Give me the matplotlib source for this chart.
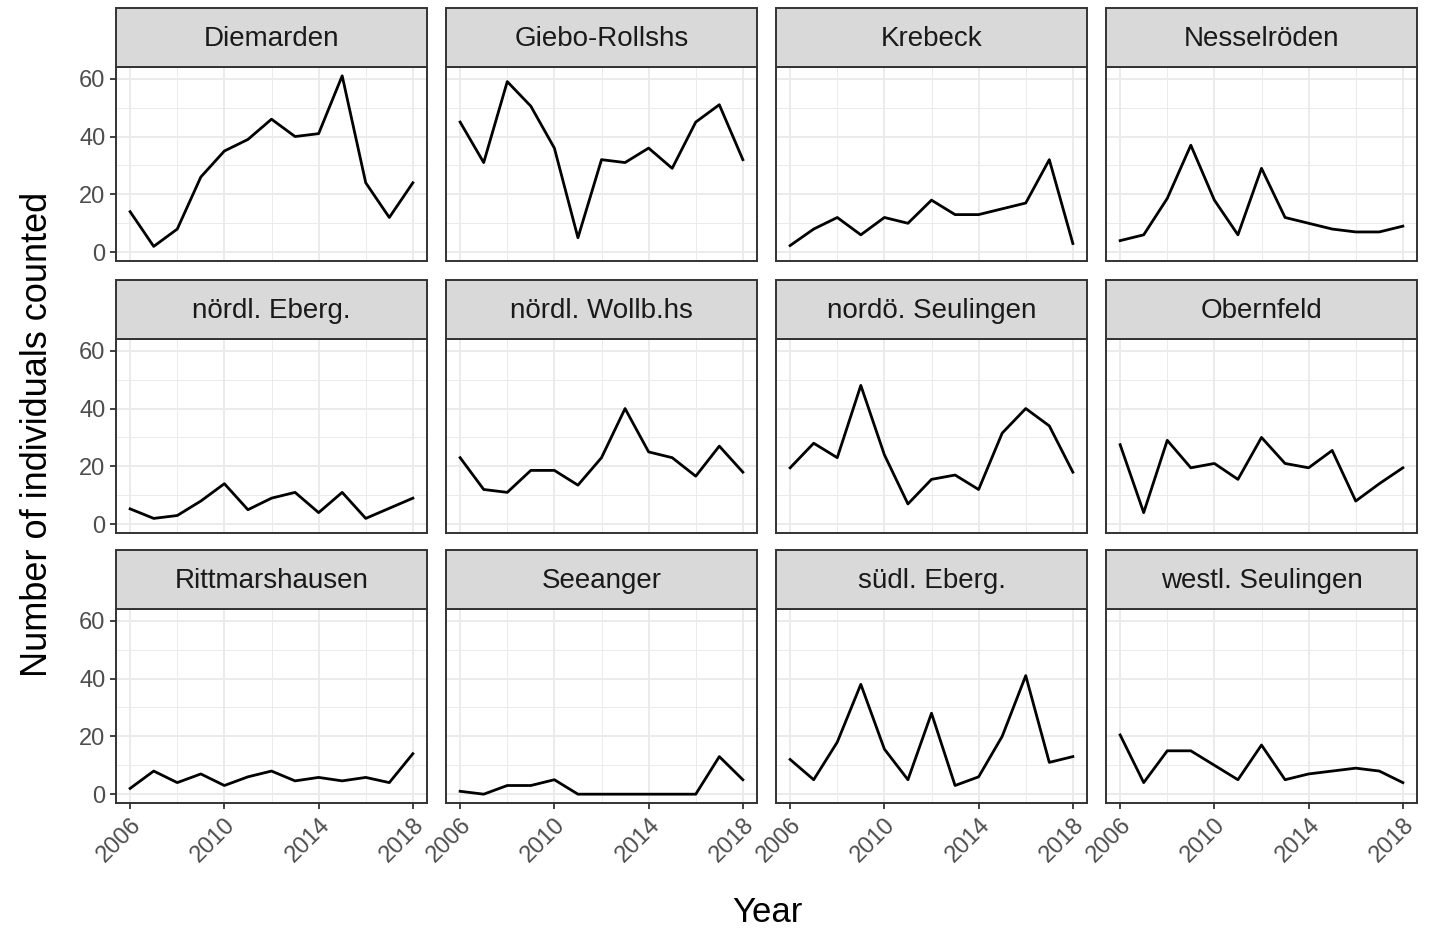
import numpy as np
import matplotlib
matplotlib.use("Agg")
import matplotlib.pyplot as plt
from matplotlib.patches import Rectangle

plt.rcParams['font.family'] = ['Liberation Sans', 'DejaVu Sans']

years = list(range(2006, 2019))

sites = ['Diemarden', 'Giebo-Rollshs', 'Krebeck', 'Nesselröden',
         'nördl. Eberg.', 'nördl. Wollb.hs', 'nordö. Seulingen', 'Obernfeld',
         'Rittmarshausen', 'Seeanger', 'südl. Eberg.', 'westl. Seulingen']

diemarden = [14, 2, 8, 26, 35, 39, 46, 40, 41, 61, 24, 12, 24]
giebo = [45, 31, 59, 50.5, 36, 5, 32, 31, 36, 29, 45, 51, 32]
krebeck = [2.3, 8, 12, 6, 12, 10, 18, 13, 13, 15, 17, 32, 3]
nesselroeden = [4, 6, 18.6, 37, 18, 6, 29, 12, 10, 8, 7, 7, 9]
noerdl_eberg = [5.3, 2, 3, 8, 14, 5, 9, 11, 4, 11, 2, 5.5, 9]
noerdl_wollb = [23, 12, 11, 18.6, 18.6, 13.5, 23, 40, 25, 23, 16.6, 27, 18]
nordoe_seul = [19.5, 28, 23, 48, 24, 7, 15.5, 17, 12, 31.5, 40, 34, 18]
obernfeld = [27.5, 4, 29, 19.5, 21, 15.5, 30, 21, 19.5, 25.5, 8, 14, 19.5]
rittmars = [2, 8, 4, 7, 3, 6, 8, 4.6, 5.8, 4.6, 5.8, 4, 14]
seeanger = [1, 0, 3, 3, 5, 0, 0, 0, 0, 0, 0, 13, 5]
suedl_eberg = [12, 5, 18, 38, 15.6, 5, 28, 3, 6, 20, 41, 11, 13]
westl_seul = [20.5, 4, 15, 15, 10, 5, 17, 5, 7, 8, 9, 8, 4]

counts = [diemarden, giebo, krebeck, nesselroeden,
          noerdl_eberg, noerdl_wollb, nordoe_seul, obernfeld,
          rittmars, seeanger, suedl_eberg, westl_seul]

W, H = 1432, 933
fig = plt.figure(figsize=(W / 100, H / 100), dpi=100)

col_left = [116, 446, 776, 1106]
row_top = [67, 339, 609]
pw, ph = 311, 194
strip_h = 59

for i, (name, vals) in enumerate(zip(sites, counts)):
    r, c = divmod(i, 4)
    x0, y0 = col_left[c], row_top[r]
    ax = fig.add_axes([x0 / W, 1 - (y0 + ph) / H, pw / W, ph / H])
    ax.plot(years, vals, color='black', lw=2.0)
    ax.set_xlim(2005.4, 2018.6)
    ax.set_ylim(-3.05, 64.05)
    ax.set_xticks([2006, 2010, 2014, 2018])
    ax.set_xticks([2008, 2012, 2016], minor=True)
    ax.set_yticks([0, 20, 40, 60])
    ax.set_yticks([10, 30, 50], minor=True)
    ax.grid(which='major', color='#EBEBEB', lw=1.4)
    ax.grid(which='minor', color='#EBEBEB', lw=0.7)
    ax.set_axisbelow(True)
    for s in ax.spines.values():
        s.set_color('#333333')
        s.set_linewidth(1.4)
    ax.tick_params(which='minor', length=0)
    ax.tick_params(which='major', color='#333333', length=4.5, width=1.3,
                   labelsize=17, labelcolor='#4D4D4D', pad=3)
    if c == 0:
        ax.set_yticklabels(['0', '20', '40', '60'])
    else:
        ax.tick_params(axis='y', which='major', length=0, labelleft=False)
    if r == 2:
        ax.set_xticklabels(['2006', '2010', '2014', '2018'], rotation=45,
                           ha='right', va='top', rotation_mode='anchor')
    else:
        ax.tick_params(axis='x', which='major', length=0, labelbottom=False)

    sax = fig.add_axes([x0 / W, 1 - y0 / H, pw / W, strip_h / H])
    sax.set_xlim(0, 1)
    sax.set_ylim(0, 1)
    sax.axis('off')
    sax.add_patch(Rectangle((0, 0), 1, 1, facecolor='#D9D9D9',
                            edgecolor='#333333', lw=1.4, clip_on=False))
    sax.text(0.5, 0.47, name, ha='center', va='center', fontsize=20, color='#1A1A1A')

fig.text(767 / W, 1 - 912 / H, 'Year', ha='center', va='center', fontsize=25)
fig.text(38 / W, 1 - 434 / H, 'Number of individuals counted', ha='center',
         va='center', rotation=90, fontsize=26)

fig.savefig('out.png', dpi=100)
